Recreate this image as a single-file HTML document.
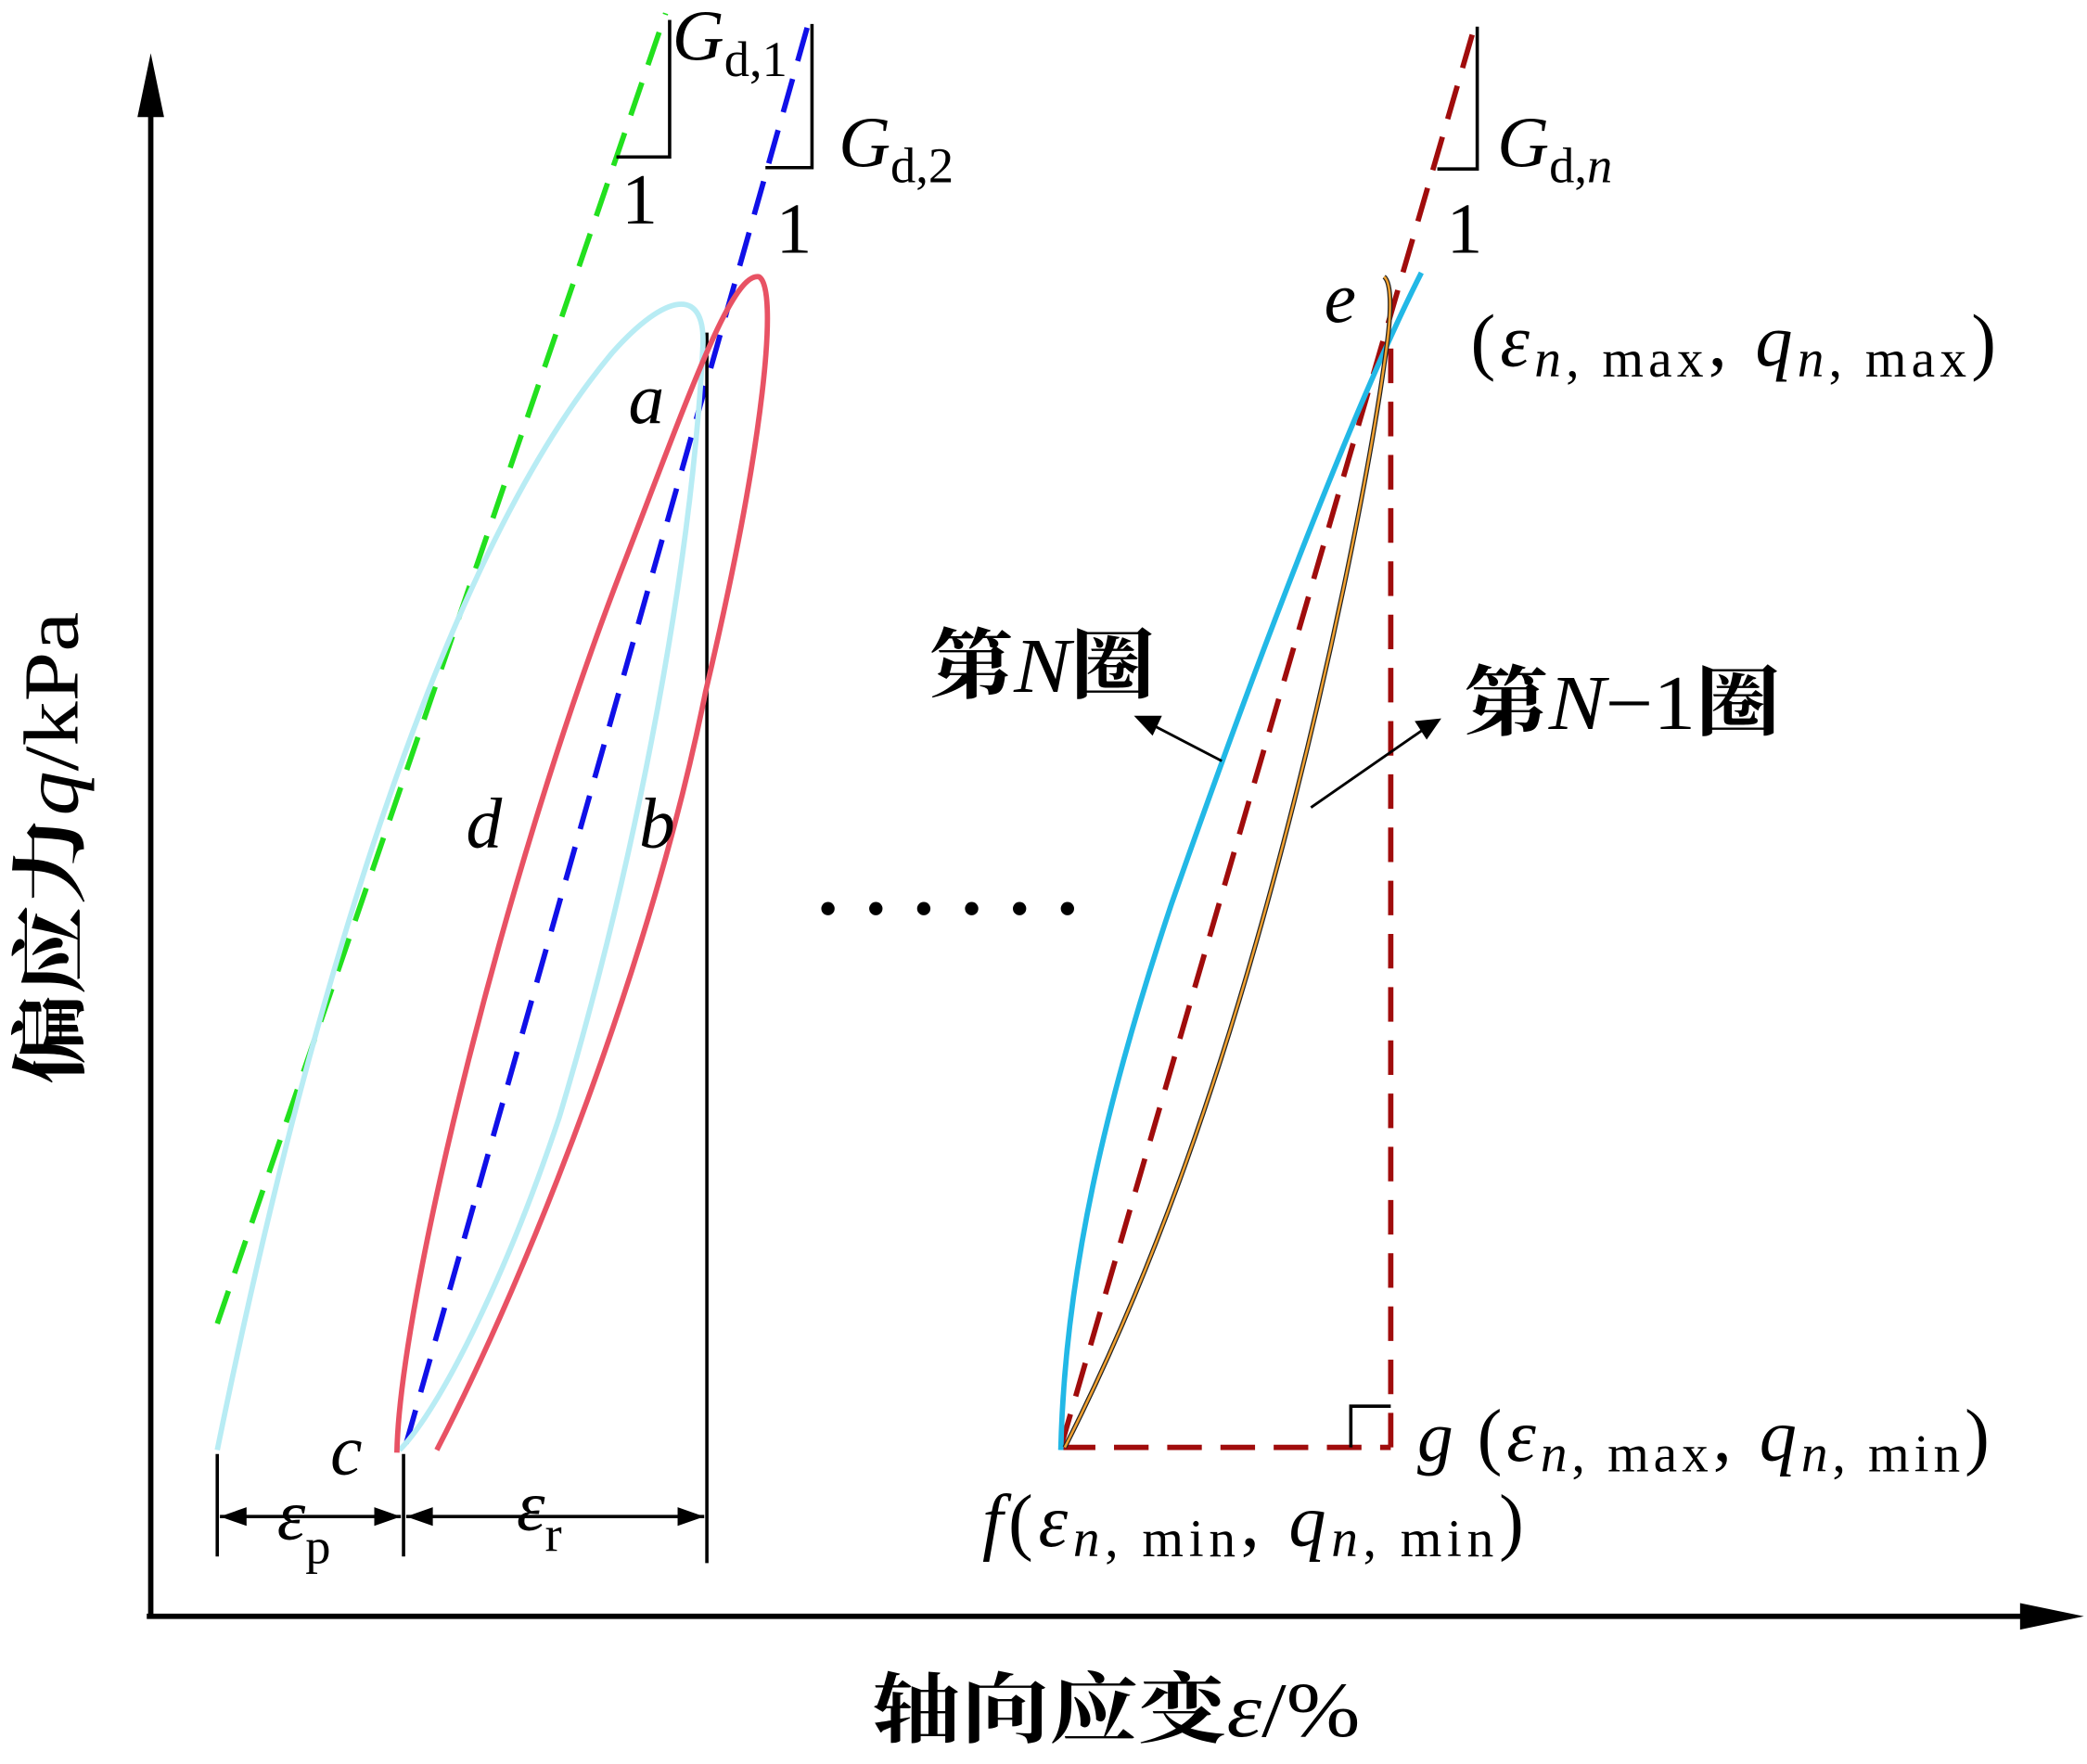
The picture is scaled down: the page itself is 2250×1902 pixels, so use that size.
<!DOCTYPE html>
<html><head><meta charset="utf-8"><style>html,body{margin:0;padding:0;background:#fff}svg{display:block}</style></head>
<body>
<svg width="2250" height="1902" viewBox="0 0 1568 1326" xmlns="http://www.w3.org/2000/svg" font-family="'Liberation Serif','Noto Serif CJK SC',serif">
<rect width="1568" height="1326" fill="#fff"/>
<line x1="113" y1="1215" x2="113" y2="80" stroke="#000" stroke-width="4"/>
<polygon points="113,40 103,88 123,88" fill="#000"/>
<line x1="110" y1="1215" x2="1525" y2="1215" stroke="#000" stroke-width="4"/>
<polygon points="1566,1215 1518,1205 1518,1225" fill="#000"/>
<line x1="163" y1="995" x2="500" y2="10" stroke="#22e01e" stroke-width="4" stroke-dasharray="26,14"/>
<line x1="305" y1="1085" x2="608" y2="15" stroke="#1010e8" stroke-width="4" stroke-dasharray="26,14"/>
<line x1="797" y1="1088" x2="1108" y2="20" stroke="#a00c0c" stroke-width="4" stroke-dasharray="26,14"/>
<line x1="797" y1="1088" x2="1045" y2="1088" stroke="#a00c0c" stroke-width="4" stroke-dasharray="26,14"/>
<line x1="1045" y1="1088" x2="1045" y2="250" stroke="#a00c0c" stroke-width="4" stroke-dasharray="26,14"/>
<polyline points="1015,1088 1015,1057 1045,1057" fill="none" stroke="#000" stroke-width="2.5"/>
<polyline points="463,118 503,118 503,15" fill="none" stroke="#000" stroke-width="2.5"/>
<polyline points="575,126 610,126 610,18" fill="none" stroke="#000" stroke-width="2.5"/>
<polyline points="1080,127 1110,127 1110,20" fill="none" stroke="#000" stroke-width="2.5"/>
<line x1="531" y1="250" x2="531" y2="1175" stroke="#000" stroke-width="2.5"/>
<path d="M163,1090 C230,760 330,420 460,265 C500,220 530,215 528,260 C520,420 480,640 420,840 C380,960 330,1060 300,1090" fill="none" stroke="#b8ecf4" stroke-width="4"/>
<path d="M298,1092 C300,980 380,650 470,420 C520,290 550,205 570,208 C585,215 575,330 530,520 C490,720 400,950 328,1090" fill="none" stroke="#e85264" stroke-width="4"/>
<path d="M797,1090 C800,960 830,830 880,680 C950,480 1020,300 1068,205" fill="none" stroke="#22b8e6" stroke-width="4"/>
<path d="M800,1088 C870,950 920,800 960,650 C1000,500 1030,350 1042,260 C1046,230 1045,212 1040,208" fill="none" stroke="#222" stroke-width="3.5"/>
<path d="M800,1088 C870,950 920,800 960,650 C1000,500 1030,350 1042,260 C1046,230 1045,212 1040,208" fill="none" stroke="#f0a030" stroke-width="1.8"/>
<line x1="163" y1="1093" x2="163" y2="1170" stroke="#000" stroke-width="2.5"/>
<line x1="303" y1="1093" x2="303" y2="1170" stroke="#000" stroke-width="2.5"/>
<line x1="165" y1="1140" x2="301" y2="1140" stroke="#000" stroke-width="2.5"/>
<polygon points="165,1140 185,1133 185,1147" fill="#000"/>
<polygon points="301,1140 281,1133 281,1147" fill="#000"/>
<line x1="305" y1="1140" x2="529" y2="1140" stroke="#000" stroke-width="2.5"/>
<polygon points="305,1140 325,1133 325,1147" fill="#000"/>
<polygon points="529,1140 509,1133 509,1147" fill="#000"/>
<line x1="918" y1="572" x2="866" y2="545" stroke="#000" stroke-width="2"/>
<polygon points="852,538 873,538 866,553" fill="#000"/>
<line x1="985" y1="607" x2="1070" y2="548" stroke="#000" stroke-width="2"/>
<polygon points="1083,540 1063,542 1072,556" fill="#000"/>
<g fill="#000"><circle cx="622" cy="683" r="5"/><circle cx="658" cy="683" r="5"/><circle cx="694" cy="683" r="5"/><circle cx="730" cy="683" r="5"/><circle cx="766" cy="683" r="5"/><circle cx="802" cy="683" r="5"/></g>
<g font-size="54" fill="#000">
<text x="505" y="45" font-style="italic">G<tspan font-style="normal" font-size="38" dy="12">d,1</tspan></text>
<text x="630" y="125" font-style="italic">G<tspan font-style="normal" font-size="38" dy="12">d,2</tspan></text>
<text x="1125" y="125" font-style="italic">G<tspan font-style="normal" font-size="38" dy="12">d,</tspan><tspan font-size="38">n</tspan></text>
<text x="467" y="168">1</text>
<text x="583" y="190">1</text>
<text x="1087" y="190">1</text>
<text x="472" y="318" font-style="italic">a</text>
<text x="350" y="637" font-style="italic">d</text>
<text x="480" y="637" font-style="italic">b</text>
<text x="248" y="1108" font-style="italic">c</text>
<text x="995" y="242" font-style="italic">e</text>
<text x="1065" y="1098" font-style="italic">g</text>
<text x="208" y="1157" font-style="italic">ε<tspan font-style="normal" font-size="38" dy="18">p</tspan></text>
<text x="388" y="1150" font-style="italic">ε<tspan font-style="normal" font-size="38" dy="16">r</tspan></text>
<text x="1105" y="275" font-size="56" textLength="395" lengthAdjust="spacing">(<tspan font-style="italic">ε</tspan><tspan font-size="40" dy="8"><tspan font-style="italic">n</tspan>, max</tspan><tspan dy="-8">, </tspan><tspan font-style="italic">q</tspan><tspan font-size="40" dy="8"><tspan font-style="italic">n</tspan>, max</tspan><tspan dy="-8">)</tspan></text>
<text x="1110" y="1098" font-size="56" textLength="385" lengthAdjust="spacing">(<tspan font-style="italic">ε</tspan><tspan font-size="40" dy="8"><tspan font-style="italic">n</tspan>, max</tspan><tspan dy="-8">, </tspan><tspan font-style="italic">q</tspan><tspan font-size="40" dy="8"><tspan font-style="italic">n</tspan>, min</tspan><tspan dy="-8">)</tspan></text>
<text x="738" y="1162" font-size="56" textLength="407" lengthAdjust="spacing"><tspan font-style="italic">f</tspan>(<tspan font-style="italic">ε</tspan><tspan font-size="40" dy="8"><tspan font-style="italic">n</tspan>, min</tspan><tspan dy="-8">, </tspan><tspan font-style="italic">q</tspan><tspan font-size="40" dy="8"><tspan font-style="italic">n</tspan>, min</tspan><tspan dy="-8">)</tspan></text>
<text x="698" y="520" font-size="58" font-weight="bold" textLength="170" lengthAdjust="spacingAndGlyphs">第<tspan font-style="italic" font-weight="normal">N</tspan>圈</text>
<text x="1100" y="548" font-size="58" font-weight="bold" textLength="238" lengthAdjust="spacingAndGlyphs">第<tspan font-style="italic" font-weight="normal">N</tspan><tspan font-weight="normal">−1</tspan>圈</text>
<text x="655" y="1305" font-size="58" font-weight="bold" textLength="367" lengthAdjust="spacingAndGlyphs">轴向应变<tspan font-style="italic" font-weight="normal">ε</tspan><tspan font-weight="normal">/%</tspan></text>
<text transform="translate(58,815) rotate(-90)" font-size="58" font-weight="bold" textLength="355" lengthAdjust="spacingAndGlyphs">偏应力<tspan font-style="italic" font-weight="normal">q</tspan><tspan font-weight="normal">/kPa</tspan></text>
</g>
</svg>
</body></html>
